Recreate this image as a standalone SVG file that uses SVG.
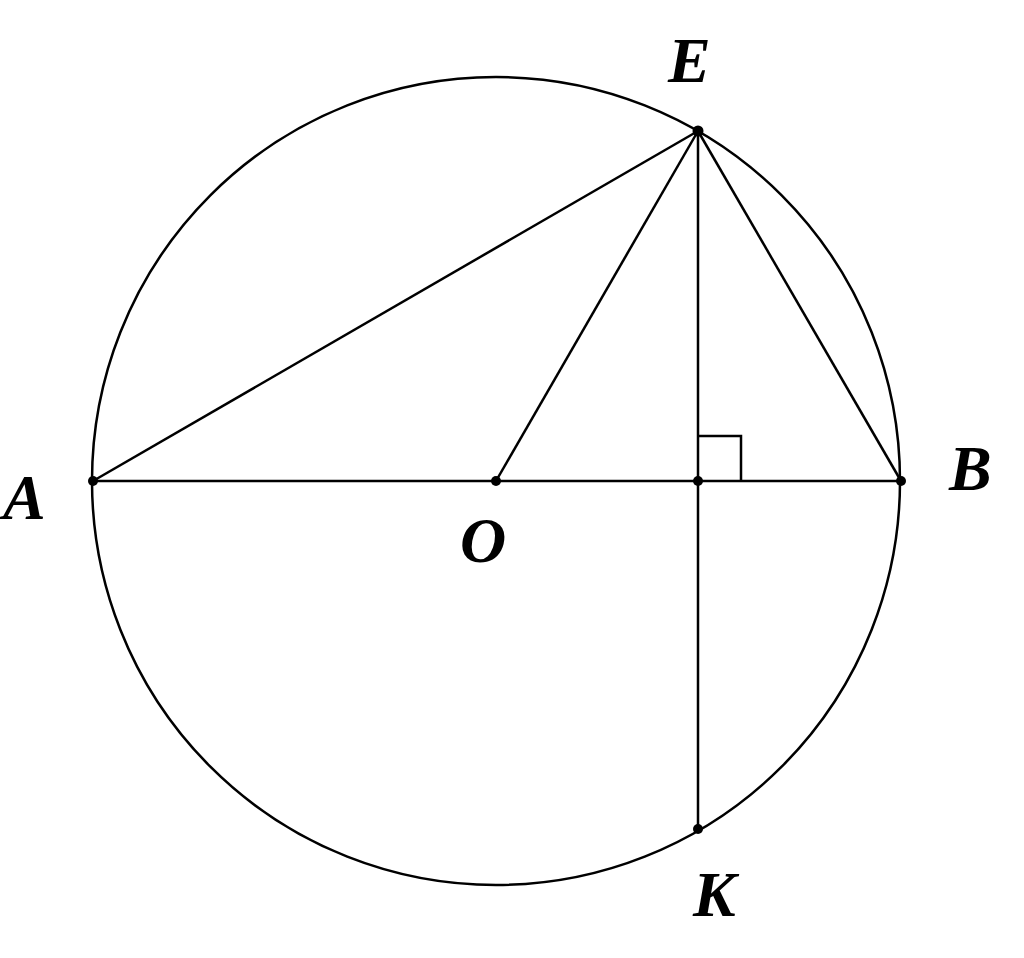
<svg xmlns="http://www.w3.org/2000/svg" width="1024" height="958" viewBox="0 0 1024 958">
<style>
.ln{fill:none;stroke:#000;stroke-width:2.5}
.pt{fill:#000}
.lb{font-family:"Liberation Serif","Times New Roman",serif;font-weight:bold;font-style:italic;font-size:64px;fill:#000}
</style>
<rect width="1024" height="958" fill="#fff"/>
<g id="circle"><circle class="ln" cx="496" cy="481" r="404"/></g>
<g id="connectors">
<line class="ln" x1="93" y1="481" x2="901" y2="481"/>
<line class="ln" x1="93" y1="481" x2="698" y2="131"/>
<line class="ln" x1="496" y1="481" x2="698" y2="131"/>
<line class="ln" x1="698" y1="131" x2="901" y2="481"/>
<line class="ln" x1="698" y1="131" x2="698" y2="829"/>
<polyline class="ln" points="698,436 741,436 741,481"/>
</g>
<g id="A"><circle class="pt" cx="93" cy="481" r="5"/><text class="lb" x="3" y="519">A</text></g>
<g id="B"><circle class="pt" cx="901" cy="481" r="5"/><text class="lb" x="949" y="490">B</text></g>
<g id="E"><circle class="pt" cx="698" cy="131" r="5.5"/><text class="lb" x="668" y="82">E</text></g>
<g id="O"><circle class="pt" cx="496" cy="481" r="5"/><text class="lb" x="460" y="562">O</text></g>
<g id="H"><circle class="pt" cx="698" cy="481" r="5"/></g>
<g id="K"><circle class="pt" cx="698" cy="829" r="5"/><text class="lb" x="693" y="916">K</text></g>
</svg>
